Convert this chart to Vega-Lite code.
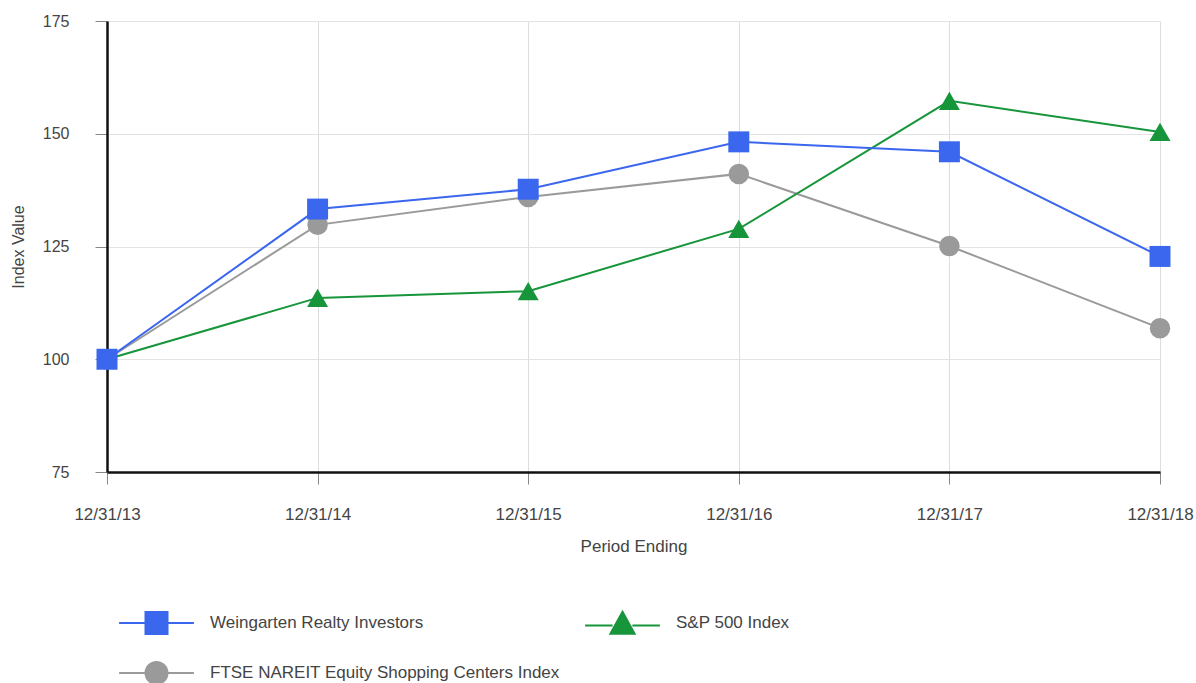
{
  "$schema": "https://vega.github.io/schema/vega-lite/v6.json",
  "width": 1053,
  "height": 451,
  "autosize": {"type": "none"},
  "padding": {"left": 107, "top": 21, "right": 36, "bottom": 211},
  "background": "white",
  "config": {
    "font": "Liberation Sans",
    "view": {"stroke": null}
  },
  "data": {
    "values": [
      {"series": "FTSE NAREIT Equity Shopping Centers Index", "period": "12/31/13", "value": 100},
      {"series": "FTSE NAREIT Equity Shopping Centers Index", "period": "12/31/14", "value": 129.8},
      {"series": "FTSE NAREIT Equity Shopping Centers Index", "period": "12/31/15", "value": 136.0},
      {"series": "FTSE NAREIT Equity Shopping Centers Index", "period": "12/31/16", "value": 141.1},
      {"series": "FTSE NAREIT Equity Shopping Centers Index", "period": "12/31/17", "value": 125.1},
      {"series": "FTSE NAREIT Equity Shopping Centers Index", "period": "12/31/18", "value": 106.9},
      {"series": "S&P 500 Index", "period": "12/31/13", "value": 100},
      {"series": "S&P 500 Index", "period": "12/31/14", "value": 113.6},
      {"series": "S&P 500 Index", "period": "12/31/15", "value": 115.1},
      {"series": "S&P 500 Index", "period": "12/31/16", "value": 128.9},
      {"series": "S&P 500 Index", "period": "12/31/17", "value": 157.3},
      {"series": "S&P 500 Index", "period": "12/31/18", "value": 150.4},
      {"series": "Weingarten Realty Investors", "period": "12/31/13", "value": 100},
      {"series": "Weingarten Realty Investors", "period": "12/31/14", "value": 133.3},
      {"series": "Weingarten Realty Investors", "period": "12/31/15", "value": 137.7},
      {"series": "Weingarten Realty Investors", "period": "12/31/16", "value": 148.2},
      {"series": "Weingarten Realty Investors", "period": "12/31/17", "value": 146.0},
      {"series": "Weingarten Realty Investors", "period": "12/31/18", "value": 122.8}
    ]
  },
  "encoding": {
    "x": {
      "field": "period",
      "type": "ordinal",
      "sort": null,
      "scale": {"type": "point", "padding": 0},
      "axis": {
        "title": "Period Ending",
        "labelAngle": 0,
        "labelFontSize": 17,
        "labelColor": "#444444",
        "labelPadding": 22,
        "tickSize": 12,
        "tickColor": "#888888",
        "domainColor": "#111111",
        "domainWidth": 2.5,
        "grid": true,
        "gridColor": "#dddddd",
        "titleFontSize": 17,
        "titleFontWeight": "normal",
        "titleColor": "#444444",
        "titlePadding": 16
      }
    },
    "y": {
      "field": "value",
      "type": "quantitative",
      "scale": {"domain": [75, 175], "nice": false, "zero": false},
      "axis": {
        "title": "Index Value",
        "values": [75, 100, 125, 150, 175],
        "labelFontSize": 16,
        "labelColor": "#444444",
        "labelPadding": 26,
        "tickSize": 12,
        "tickColor": "#888888",
        "domainColor": "#111111",
        "domainWidth": 2.5,
        "grid": true,
        "gridColor": "#e3e3e3",
        "titleFontSize": 16,
        "titleFontWeight": "normal",
        "titleColor": "#444444",
        "titlePadding": 16
      }
    },
    "color": {
      "field": "series",
      "type": "nominal",
      "scale": {
        "domain": ["Weingarten Realty Investors", "S&P 500 Index", "FTSE NAREIT Equity Shopping Centers Index"],
        "range": ["#3b66ee", "#17953a", "#9a9a9a"]
      },
      "legend": {
        "title": null,
        "orient": "none",
        "direction": "horizontal",
        "values": ["Weingarten Realty Investors", "S&P 500 Index", "FTSE NAREIT Equity Shopping Centers Index"],
        "legendX": 37.5,
        "legendY": 590,
        "columns": 2,
        "columnPadding": 20,
        "rowPadding": 20,
        "padding": 0,
        "symbolSize": 484,
        "labelOffset": 41.5,
        "labelFontSize": 17,
        "labelColor": "#444444",
        "labelLimit": 500,
        "encode": {
          "symbols": {
            "update": {
              "shape": {"signal": "datum.value === 'Weingarten Realty Investors' ? 'M-3.4,0H-1M1,0H3.4M-1,-1H1V1H-1Z' : (datum.value === 'S&P 500 Index' ? 'M-3.4,0.2H-0.9M0.9,0.2H3.4M0,-1.05L1.1,0.95H-1.1Z' : 'M-3.4,0H-1M1,0H3.4M1,0A1,1,0,1,1,-1,0A1,1,0,1,1,1,0Z')"},
              "fill": {"scale": "color", "field": "value"},
              "stroke": {"scale": "color", "field": "value"},
              "strokeWidth": {"value": 2},
              "opacity": {"value": 1},
              "fillOpacity": {"value": 1},
              "size": {"value": 484}
            }
          }
        }
      }
    }
  },
  "layer": [
    {"mark": {"type": "line", "strokeWidth": 2}},
    {
      "transform": [{"filter": "datum.series === 'FTSE NAREIT Equity Shopping Centers Index'"}],
      "mark": {"type": "point", "filled": true, "opacity": 1, "size": 420, "shape": "circle"}
    },
    {
      "transform": [{"filter": "datum.series === 'S&P 500 Index'"}],
      "mark": {"type": "point", "filled": true, "opacity": 1, "size": 440, "shape": "triangle-up"}
    },
    {
      "transform": [{"filter": "datum.series === 'Weingarten Realty Investors'"}],
      "mark": {"type": "point", "filled": true, "opacity": 1, "size": 440, "shape": "square"}
    }
  ]
}
